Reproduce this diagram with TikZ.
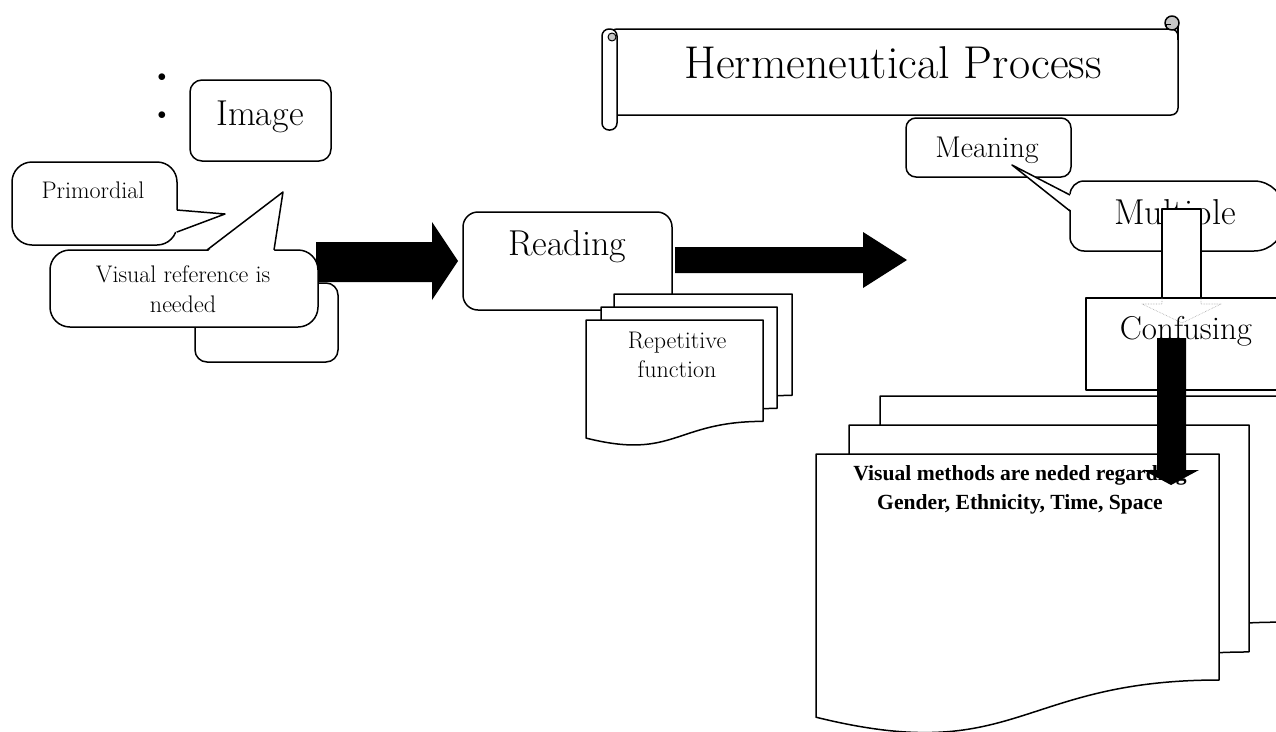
\documentclass[tikz,border=0pt]{standalone}
\usepackage{fontspec}
\newfontfamily\timesfont{Liberation Serif}
\newcommand{\fsz}[2]{\fontsize{#1}{#2}\selectfont}
\newcommand{\mydoc}[4]{% x1 x2 top h
  \draw[fill=white] (#1,#3) -- (#2,#3) -- (#2,{#3+#4*0.802})
    .. controls ({(#1+#2)/2},{#3+#4*0.802}) and ({(#1+#2)/2},{#3+#4*1.1106}) .. (#1,{#3+#4*0.934}) -- cycle;}
\begin{document}
\begin{tikzpicture}[x=1pt,y=-1pt,line width=1.5pt,line join=round,
  txt/.style={inner sep=0pt,anchor=base},
  rbox/.style={draw,fill=white,rounded corners=#1},
  blockarrow/.style={fill=black,draw=none}]
\useasboundingbox (0,0) rectangle (1276,731);
\clip (0,0) rectangle (1276,731);

% ---------- scroll ----------
\draw[fill=white,rounded corners=7pt] (610,29) -- (1178,29) -- (1178,115) -- (610,115) -- cycle;
\draw (1178,23) -- (1178,40);
\draw[fill=gray!45] (1172,23) circle (7);
\draw[line width=1pt] (1166,29) -- (1166,24) -- (1171,24);
\draw[fill=white,rounded corners=7pt] (602,29) rectangle (617,130);
\draw[fill=gray!45,line width=1pt] (612,37) circle (4);
\node[txt] (herm) at (893,78) {\fsz{46}{54}Hermeneutical Process};

% ---------- left group ----------
\node[txt] (b1) at (162,81) {\fsz{16}{18}$\bullet$};
\node[txt] (b2) at (162,119) {\fsz{16}{18}$\bullet$};
\draw[rbox=12pt] (190,80) rectangle (331,161);
\node[txt] (image) at (260,125) {\fsz{36}{42}Image};

% Primordial callout
\draw[rbox=20pt] (12,162) rectangle (177,245);
\fill[white] (175,210) -- (225,214) -- (175,232) -- cycle;
\draw (177,210) -- (225,214) -- (177,232);
\node[txt] (prim) at (93,198) {\fsz{24}{28}Primordial};

% box behind
\draw[rbox=12pt] (195,283) rectangle (338,362);

% black arrow 1
\fill[blockarrow] (316,242) -- (432,242) -- (432,222) -- (458,261) -- (432,300) -- (432,282) -- (316,282) -- cycle;

% Visual reference callout
\draw[rbox=20pt] (50,250) rectangle (318,327);
\fill[white] (207,252) -- (283,192) -- (274,252) -- cycle;
\draw (207,250) -- (283,192) -- (274,250);
\node[txt] (vr1) at (183,282) {\fsz{24}{28}Visual reference is};
\node[txt] (vr2) at (183,312) {\fsz{24}{28}needed};

% ---------- Reading ----------
\draw[rbox=15pt] (463,212) rectangle (672,310);
\node[txt] (reading) at (567,255) {\fsz{36}{42}Reading};
\fill[blockarrow] (675,247) -- (863,247) -- (863,232) -- (907,260) -- (863,288) -- (863,273) -- (675,273) -- cycle;

\mydoc{614}{792}{294}{126.4}
\mydoc{601}{777}{307}{126.4}
\mydoc{586}{763}{320}{126.4}
\node[txt] (rep1) at (677,348) {\fsz{24}{28}Repetitive};
\node[txt] (rep2) at (677,377) {\fsz{24}{28}function};

% ---------- right group ----------
\draw[rbox=10pt] (906,118) rectangle (1071,177);
\node[txt] (meaning) at (987,157) {\fsz{30}{35}Meaning};

\draw[fill=white] (1084,181) -- (1254,181) .. controls (1270.6,181) and (1284,194.4) .. (1284,211)
  -- (1284,221) .. controls (1284,237.6) and (1270.6,251) .. (1254,251)
  -- (1084,251) .. controls (1076.3,251) and (1070,244.7) .. (1070,237)
  -- (1070,195) .. controls (1070,187.3) and (1076.3,181) .. (1084,181) -- cycle;
\fill[white] (1072,195) -- (1012,165) -- (1072,211) -- cycle;
\draw (1070,195) -- (1012,165) -- (1070,211);
\node[txt] (multiple) at (1175,224) {\fsz{36}{42}Multiple};

% white arrow shaft
\draw[fill=white] (1162,209) rectangle (1201,300);

% Confusing box
\draw[fill=white] (1086,298) rectangle (1300,390);
\draw[gray!70,line width=0.6pt,densely dotted] (1162,298) -- (1162,304) -- (1142,304) -- (1182,323) -- (1221,304) -- (1201,304) -- (1201,298);
\node[txt] (confusing) at (1186,339) {\fsz{33}{38}Confusing};

% big document stack
\mydoc{880}{1280}{396}{282}
\mydoc{849}{1249}{425}{283}
\mydoc{816}{1219}{454}{281.8}
\node[txt] (vm1) at (1020,480) {\timesfont\bfseries\fsz{21.6}{25}Visual methods are neded regarding};
\node[txt] (vm2) at (1020,509) {\timesfont\bfseries\fsz{21.6}{25}Gender, Ethnicity, Time, Space};

% black down arrow
\fill[blockarrow] (1157,338) -- (1186,338) -- (1186,470) -- (1199,470) -- (1171,485) -- (1143,470) -- (1157,470) -- cycle;
\end{tikzpicture}
\end{document}
